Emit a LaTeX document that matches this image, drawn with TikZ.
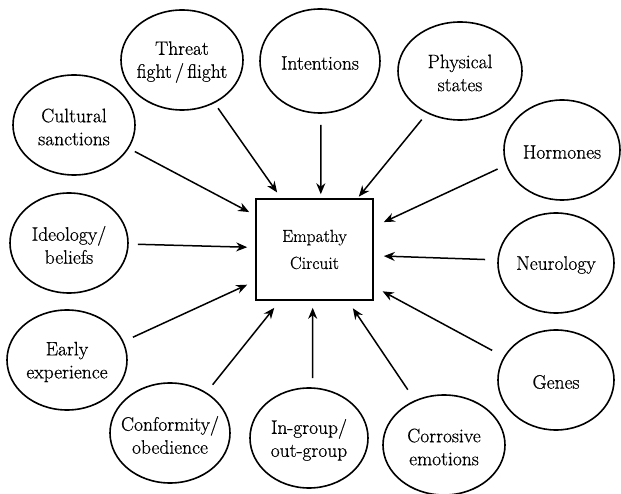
\documentclass[tikz,border=0pt]{standalone}
\usepackage{fontspec}
\newfontfamily\bookfont{Latin Modern Roman}[FakeBold=0.6]
\usetikzlibrary{shapes.geometric,arrows.meta}
\begin{document}
\begin{tikzpicture}[x=1pt,y=-1pt,
  bubble/.style={ellipse, draw, line width=1.6pt, inner sep=0pt, outer sep=0pt},
  lbl/.style={align=center, font=\bookfont\fontsize{19.5}{23}\selectfont, inner sep=0pt, yshift=-2pt},
  arr/.style={line width=1.5pt, -{Stealth[length=11pt,width=9pt]}}]
\useasboundingbox (0,0) rectangle (621,494);
% central box
\node[draw, line width=1.6pt, minimum width=117pt, minimum height=101pt, align=center,
      font=\bookfont\fontsize{17.5}{27}\selectfont] (box) at (314.5,249.5) {Empathy\\Circuit};
% ellipses
\node[bubble, minimum width=122pt, minimum height=100pt] (threat) at (182,60) {};
\node[lbl] at (threat) {Threat\\fight\,/\,flight};
\node[bubble, minimum width=120pt, minimum height=104pt] (intent) at (320,61) {};
\node[lbl] at (intent) {Intentions};
\node[bubble, minimum width=124pt, minimum height=98pt] (phys) at (460,71) {};
\node[lbl] at (phys) {Physical\\states};
\node[bubble, minimum width=116pt, minimum height=100pt] (horm) at (562,150) {};
\node[lbl] at (horm) {Hormones};
\node[bubble, minimum width=116pt, minimum height=100pt] (neuro) at (556,263) {};
\node[lbl] at (neuro) {Neurology};
\node[bubble, minimum width=116pt, minimum height=100pt] (genes) at (556,380) {};
\node[lbl] at (genes) {Genes};
\node[bubble, minimum width=122pt, minimum height=100pt] (corr) at (444,445) {};
\node[lbl] at (corr) {Corrosive\\emotions};
\node[bubble, minimum width=118pt, minimum height=100pt] (ingrp) at (309,438) {};
\node[lbl] at (ingrp) {In-group/\\out-group};
\node[bubble, minimum width=120pt, minimum height=100pt] (conf) at (170,433) {};
\node[lbl] at (conf) {Conformity/\\obedience};
\node[bubble, minimum width=120pt, minimum height=100pt] (early) at (67,360) {};
\node[lbl] at (early) {Early\\experience};
\node[bubble, minimum width=118pt, minimum height=100pt] (ideo) at (69,243) {};
\node[lbl] at (ideo) {Ideology/\\beliefs};
\node[bubble, minimum width=122pt, minimum height=100pt] (cult) at (74,125) {};
\node[lbl] at (cult) {Cultural\\sanctions};
% arrows
\draw[arr, shorten <=7pt, shorten >=7pt] (threat.-53) -- (box.123);
\draw[arr, shorten <=12pt, shorten >=4pt] (intent.-89) -- (box.83);
\draw[arr, shorten <=9pt, shorten >=2pt] (phys.-128) -- (box.50);
\draw[arr, shorten <=10pt, shorten >=11pt] (horm.195.5) -- (box.21.3);
\draw[arr, shorten <=13pt, shorten >=10pt] (neuro.177.6) -- (box.-6);
\draw[arr, shorten <=14pt, shorten >=10pt] (genes.156.7) -- (box.-32.7);
\draw[arr, shorten <=13.5pt, shorten >=9pt] (corr.123.9) -- (box.-57.8);
\draw[arr, shorten <=10pt, shorten >=7pt] (ingrp.86) -- (box.268.3);
\draw[arr, shorten <=10.6pt, shorten >=9pt] (conf.48.1) -- (box.236.1);
\draw[arr, shorten <=11pt, shorten >=8.8pt] (early.18.4) -- (box.208.5);
\draw[arr, shorten <=10pt, shorten >=8pt] (ideo.-1.7) -- (box.178.7);
\draw[arr, shorten <=7.5pt, shorten >=6.8pt] (cult.-23.1) -- (box.150.4);
\end{tikzpicture}
\end{document}
